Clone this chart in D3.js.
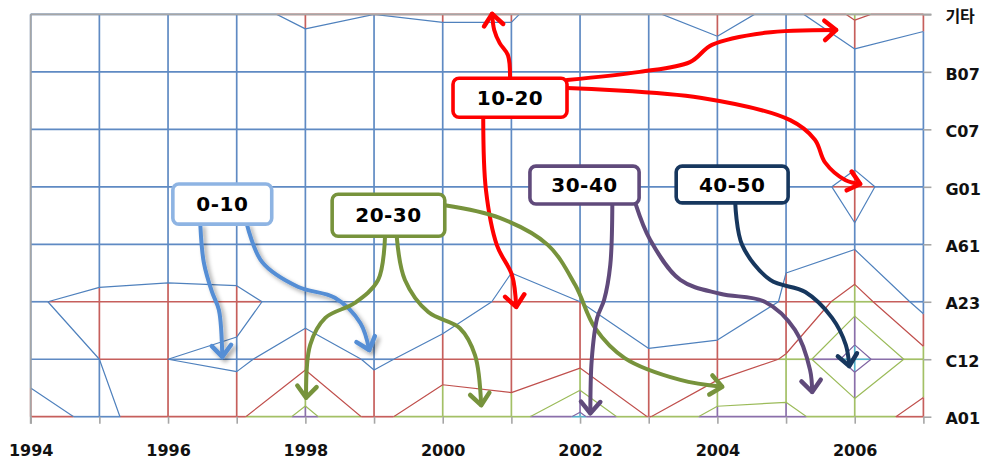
<!DOCTYPE html>
<html>
<head>
<meta charset="utf-8">
<script src="https://cdn.jsdelivr.net/npm/d3@7"></script>
<style>
html, body { margin: 0; padding: 0; background: #fff; }
svg { display: block; }
</style>
</head>
<body>
<svg id="chart" width="992" height="462"></svg>
<script>
// ---- data ----
var years      = [1994, 1995, 1996, 1997, 1998, 1999, 2000, 2001, 2002, 2003, 2004, 2005, 2006, 2007];
var yearTicks  = [1994, 1996, 1998, 2000, 2002, 2004, 2006];
var categories = ['A01', 'C12', 'A23', 'A61', 'G01', 'C07', 'B07', '기타'];
var levels     = [10, 20, 30, 40];
var bandNames  = ['0-10', '10-20', '20-30', '30-40', '40-50'];

// values per category, one per year
var zA01 = [15, 7, 17, 18, 33, 17, 27.5, 25.5, 42, 19.5, 34, 33, 23, 18];
var zC12 = [5, 10, 10, 7.8, 17, 8.4, 14, 12.4, 16, 11, 12, 21, 45, 24];
var zA23 = [9, 13, 14.4, 13.5, 4, 10, 5, 12, 10, 5.7, 6, 10.5, 25, 6.3];
var zA61 = [2, 1, 1, 1, 2, 2, 3, 8, 3, 3, 3, 9.5, 8.5, 3];
var zG01 = [2, 2, 2, 2, 3, 3, 3, 3, 3, 3, 4, 5, 12.5, 4];
var zC07 = [1, 1, 1, 2, 2, 2, 2, 2, 2, 2, 3, 3, 4, 3];
var zB07 = [1, 1, 2, 2, 2, 2, 2, 2, 1, 2, 2, 2, 2, 2];
var zEtc = [2, 2, 3, 6.2, 12.7, 10, 11.3, 11.3, 0, 8.8, 14.9, 5.8, 22, 13.4];
var rows = [zA01, zC12, zA23, zA61, zG01, zC07, zB07, zEtc];

// callouts (year, category index) and their arrows
var callouts = [
    {label: '0-10',  band: 0, x0: 1996.07, x1: 1997.51, y0: 4.05, y1: 3.35},
    {label: '10-20', band: 1, x0: 2000.15, x1: 2001.81, y0: 5.89, y1: 5.21},
    {label: '20-30', band: 2, x0: 1998.39, x1: 2000.03, y0: 3.87, y1: 3.14},
    {label: '30-40', band: 3, x0: 2001.27, x1: 2002.86, y0: 4.36, y1: 3.70},
    {label: '40-50', band: 4, x0: 2003.40, x1: 2005.03, y0: 4.36, y1: 3.72}
];
var arrows = [
    {band: 0, pts: [[1996.47,3.34],[1996.52,2.69],[1996.64,2.17],[1996.74,1.86],[1996.79,1.04]]},
    {band: 0, pts: [[1997.15,3.34],[1997.37,2.69],[1997.89,2.26],[1998.43,2.07],[1998.80,1.63],[1998.93,1.16]]},
    {band: 1, pts: [[2000.98,5.89],[2000.95,6.29],[2000.83,6.50],[2000.75,6.73],[2000.72,7.01]]},
    {band: 1, pts: [[2001.81,5.86],[2002.87,6.00],[2003.60,6.17],[2003.92,6.47],[2004.69,6.68],[2005.73,6.73]]},
    {band: 1, pts: [[2001.81,5.72],[2003.75,5.55],[2005.06,5.16],[2005.42,4.82],[2005.57,4.42],[2005.86,4.12],[2006.08,4.05]]},
    {band: 1, pts: [[2000.59,5.22],[2000.63,3.94],[2000.79,2.98],[2001.01,2.46],[2001.07,1.91]]},
    {band: 2, pts: [[2000.03,3.68],[2000.83,3.46],[2001.53,2.99],[2001.93,2.29],[2002.22,1.54],[2002.65,1.02],[2003.46,0.64],[2004.07,0.52]]},
    {band: 2, pts: [[1999.16,3.14],[1999.06,2.38],[1998.72,1.98],[1998.29,1.72],[1998.07,1.25],[1998.01,0.33]]},
    {band: 2, pts: [[1999.33,3.14],[1999.45,2.38],[1999.79,1.82],[2000.25,1.54],[2000.47,1.07],[2000.56,0.20]]},
    {band: 3, pts: [[2002.47,3.70],[2002.44,2.64],[2002.35,2.03],[2002.25,1.72],[2002.17,0.99],[2002.15,0.06]]},
    {band: 3, pts: [[2002.81,3.70],[2003.02,3.08],[2003.46,2.38],[2004.04,2.14],[2004.69,2.00],[2005.13,1.51],[2005.35,0.81],[2005.38,0.43]]},
    {band: 4, pts: [[2004.26,3.72],[2004.36,2.99],[2004.77,2.38],[2005.28,2.17],[2005.67,1.72],[2005.87,1.25],[2005.92,0.88]]}
];

// ---- styles ----
var bandColors   = ['#4F81BD', '#C0504D', '#9BBB59', '#8064A2', '#4BACC6'];
var gridColors   = ['#5F8AC3', '#C65F5C', '#A3C066', '#8A6FAA', '#56B2CB'];
var boxColors    = ['#8EB4E3', '#FF0000', '#77933C', '#604A7B', '#17375E'];
var arrowColors  = ['#558ED5', '#FF0000', '#77933C', '#604A7B', '#17375E'];
var axisGray     = '#A6A6A6';
var labelFont    = "'DejaVu Sans', 'Noto Sans CJK KR', sans-serif";

var svg = d3.select('#chart');
var x = d3.scaleLinear().domain([years[0], years[years.length-1]]).range([30.7, 923.4]);
var y = d3.scaleLinear().domain([0, categories.length-1]).range([416.7, 14.4]);
var band = d3.scaleThreshold().domain(levels).range(d3.range(levels.length+1));

var n = years.length, m = categories.length;
var grid = [];
rows.forEach(function(r){ r.forEach(function(v){ grid.push(v); }); });
var contours = d3.contours().size([n, m]).thresholds(levels)(grid);

// contour grid cell (i+0.5, j+0.5) holds value (i, j)
var proj = d3.geoTransform({point: function(px, py){
    this.stream.point(x(years[0] + px - 0.5), y(py - 0.5));
}});
var cpath = d3.geoPath(proj);

var defs = svg.append('defs');
defs.append('clipPath').attr('id', 'plot').append('rect')
    .attr('x', x.range()[0]).attr('y', y.range()[1])
    .attr('width', x.range()[1]-x.range()[0]).attr('height', y.range()[0]-y.range()[1]);
var sh = defs.append('filter').attr('id', 'shadow').attr('x', '-50%').attr('y', '-50%').attr('width', '200%').attr('height', '200%');
sh.append('feDropShadow').attr('dx', 3).attr('dy', 3).attr('stdDeviation', 2)
    .attr('flood-color', '#000').attr('flood-opacity', 0.35);

// wireframe: every grid edge split where it crosses a level, each piece coloured by its band
var pieces = [];
function splitEdge(a, b, p0, p1){
    var fs = [0];
    levels.forEach(function(t){
        if (a !== b && (t - a) * (t - b) < 0) fs.push((t - a) / (b - a));
    });
    fs.push(1);
    fs.sort(function(u, v){ return u - v; });
    for (var k = 0; k < fs.length-1; k++){
        var fm = (fs[k] + fs[k+1]) / 2;
        pieces.push({
            x1: p0[0] + (p1[0]-p0[0])*fs[k],   y1: p0[1] + (p1[1]-p0[1])*fs[k],
            x2: p0[0] + (p1[0]-p0[0])*fs[k+1], y2: p0[1] + (p1[1]-p0[1])*fs[k+1],
            b: band(a + (b - a) * fm)
        });
    }
}
for (var j = 0; j < m; j++){
    for (var i = 0; i < n; i++){
        if (i < n-1) splitEdge(rows[j][i], rows[j][i+1], [years[i], j], [years[i+1], j]);
        if (j < m-1) splitEdge(rows[j][i], rows[j+1][i], [years[i], j], [years[i], j+1]);
    }
}
pieces.sort(function(p, q){ return p.b - q.b; });
svg.append('g').selectAll('line').data(pieces).join('line')
    .attr('x1', function(d){ return x(d.x1); }).attr('y1', function(d){ return y(d.y1); })
    .attr('x2', function(d){ return x(d.x2); }).attr('y2', function(d){ return y(d.y2); })
    .attr('stroke', function(d){ return gridColors[d.b]; })
    .attr('stroke-width', 1.7);

// contour lines: each level drawn in the colour of the band below it
svg.append('g').attr('clip-path', 'url(#plot)')
    .selectAll('path').data(contours).join('path')
    .attr('d', cpath).attr('fill', 'none')
    .attr('stroke', function(d, k){ return bandColors[k]; })
    .attr('stroke-width', 1.2).attr('stroke-linejoin', 'round');

// frame
svg.append('line').attr('x1', x.range()[0]).attr('x2', x.range()[1]+8)
    .attr('y1', y.range()[1]).attr('y2', y.range()[1]).attr('stroke', axisGray).attr('stroke-width', 1.6);
svg.append('line').attr('x1', x.range()[0]).attr('x2', x.range()[0])
    .attr('y1', y.range()[1]).attr('y2', y.range()[0]+7).attr('stroke', axisGray).attr('stroke-width', 1.8);

var xAxis = svg.append('g').attr('transform', 'translate(0,'+y.range()[0]+')')
    .call(d3.axisBottom(x).tickValues(years).tickSize(7).tickPadding(0)
        .tickFormat(function(d){ return yearTicks.indexOf(d) >= 0 ? d : ''; }));
xAxis.select('.domain').remove();
xAxis.selectAll('line').attr('stroke', axisGray).attr('stroke-width', 1.6);
xAxis.selectAll('text').attr('y', 28).attr('dy', '0.71em').attr('fill', '#111')
    .style('font-family', labelFont).style('font-size', '16px').style('font-weight', 'bold');

var yAxis = svg.append('g').attr('transform', 'translate('+x.range()[1]+',0)')
    .call(d3.axisRight(y).tickValues(categories.map(function(d, i){ return i; })).tickSize(8).tickPadding(0)
        .tickFormat(function(i){ return categories[i]; }));
yAxis.select('.domain').remove();
yAxis.selectAll('line').attr('stroke', axisGray).attr('stroke-width', 1.6);
yAxis.selectAll('text').attr('x', 22).attr('dy', '0.45em').attr('fill', '#111')
    .style('font-family', labelFont).style('font-size', '16px').style('font-weight', 'bold');

// arrows
var line = d3.line().x(function(d){ return x(d[0]); }).y(function(d){ return y(d[1]); })
    .curve(d3.curveCatmullRom.alpha(0.5));
function headPath(a){
    var p1 = a.pts[a.pts.length-2], p2 = a.pts[a.pts.length-1];
    var x1 = x(p1[0]), y1 = y(p1[1]), x2 = x(p2[0]), y2 = y(p2[1]);
    var ang = Math.atan2(y2-y1, x2-x1), L = 15, s = 0.7;
    return 'M'+(x2-L*Math.cos(ang-s))+','+(y2-L*Math.sin(ang-s))+'L'+x2+','+y2+
           'L'+(x2-L*Math.cos(ang+s))+','+(y2-L*Math.sin(ang+s));
}
var ag = svg.append('g').attr('fill', 'none').attr('stroke-linecap', 'round').attr('stroke-linejoin', 'round');
var arr = ag.selectAll('g').data(arrows).join('g')
    .attr('stroke', function(d){ return arrowColors[d.band]; })
    .attr('filter', function(d){ return d.band === 0 ? 'url(#shadow)' : null; });
arr.append('path').attr('d', function(d){ return line(d.pts); }).attr('stroke-width', 4);
arr.append('path').attr('d', headPath).attr('stroke-width', 4.5);

// callout boxes
var cg = svg.append('g').selectAll('g').data(callouts).join('g');
cg.append('rect')
    .attr('x', function(d){ return x(d.x0); }).attr('y', function(d){ return y(d.y0); })
    .attr('width', function(d){ return x(d.x1)-x(d.x0); }).attr('height', function(d){ return y(d.y1)-y(d.y0); })
    .attr('rx', 6).attr('fill', '#fff')
    .attr('stroke', function(d){ return boxColors[d.band]; }).attr('stroke-width', 3.6);
cg.append('text')
    .attr('x', function(d){ return (x(d.x0)+x(d.x1))/2; }).attr('y', function(d){ return (y(d.y0)+y(d.y1))/2; })
    .attr('dy', '0.36em').attr('text-anchor', 'middle').attr('fill', '#000')
    .style('font-family', labelFont).style('font-size', '20px').style('font-weight', 'bold')
    .style('letter-spacing', '0.5px')
    .text(function(d){ return bandNames[d.band]; });
</script>
</body>
</html>
